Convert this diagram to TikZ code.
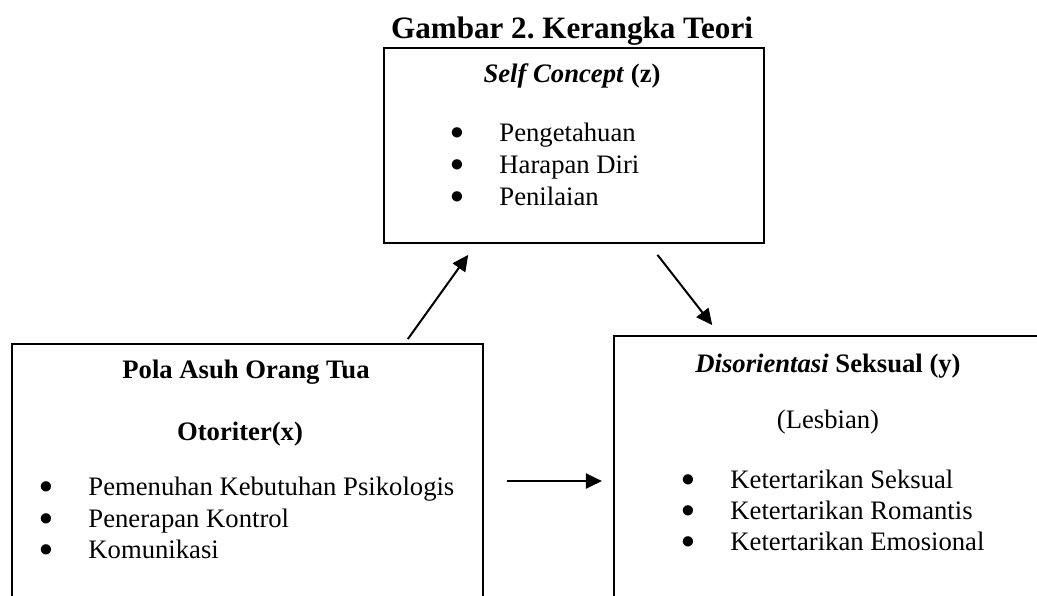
\documentclass[tikz,border=0pt]{standalone}
\usepackage{fontspec}
\setmainfont{Liberation Serif}
\usetikzlibrary{positioning,calc,arrows.meta}
\frenchspacing

\begin{document}
\begin{tikzpicture}[x=0.45pt,y=-0.45pt,
    box/.style={draw, rectangle, line width=0.9pt, anchor=north west, inner sep=0pt},
    txt/.style={inner sep=0pt, font=\fontsize{12}{14}\selectfont},
    head/.style={txt, anchor=base, font=\fontsize{12}{14}\selectfont\bfseries},
    dot/.style={txt, anchor=base},
    item/.style={txt, anchor=base west},
    link/.style={-{Triangle[length=7.2pt,width=6.8pt]}, line width=0.9pt}]
    \useasboundingbox (0,0) rectangle (1037,595);
    \clip (0,0) rectangle (1037,595);

    % Title
    \node[head, font=\fontsize{14}{16}\selectfont\bfseries] (title) at (572,38) {Gambar 2. Kerangka Teori};

    % Define the boxes
    \node[box, minimum width=171pt, minimum height=87.75pt] (concept) at (383,47) {};
    \node[box, minimum width=211.95pt, minimum height=135pt] (pola) at (11,343) {};
    \node[box, minimum width=225pt, minimum height=135pt] (disorient) at (613,335) {};

    % Self concept
    \node[head] (conceptname) at (572,82) {\textit{Self Concept} (z)};
    \foreach \y/\t [count=\i] in {141/Pengetahuan, 173/Harapan Diri, 205/Penilaian} {
        \node[dot] (conceptdot\i) at (457,\y) {\raisebox{0.7pt}{$\bullet$}};
        \node[item] (conceptitem\i) at (499,\y) {\t};
    }

    % Pola asuh
    \node[head] (polaname) at (246,378) {Pola Asuh Orang Tua};
    \node[head] (polasub) at (240,440) {Otoriter(x)};
    \foreach \y/\t [count=\i] in {495/Pemenuhan Kebutuhan Psikologis, 527/Penerapan Kontrol, 558/Komunikasi} {
        \node[dot] (poladot\i) at (46,\y) {\raisebox{0.7pt}{$\bullet$}};
        \node[item] (polaitem\i) at (88,\y) {\t};
    }

    % Disorientasi seksual
    \node[head] (disname) at (828,372) {\textit{Disorientasi} Seksual (y)};
    \node[dot] (dissub) at (828,428) {(Lesbian)};
    \foreach \y/\t [count=\i] in {488/Ketertarikan Seksual, 519/Ketertarikan Romantis, 550/Ketertarikan Emosional} {
        \node[dot] (disdot\i) at (688,\y) {\raisebox{0.7pt}{$\bullet$}};
        \node[item] (disitem\i) at (730,\y) {\t};
    }

    % Arrows
    \draw[link, shorten <=2.2pt, shorten >=6pt] ($(pola.north west)+(394,0)$) -- ($(concept.south west)+(93,0)$);
    \draw[link, shorten <=6.2pt, shorten >=5.7pt] ($(concept.south west)+(266,0)$) -- ($(disorient.north west)+(107,0)$);
    \draw[link, shorten <=10.4pt, shorten >=5pt] ($(pola.north east)+(0,138)$) -- ($(disorient.north west)+(0,146)$);
\end{tikzpicture}
\end{document}
